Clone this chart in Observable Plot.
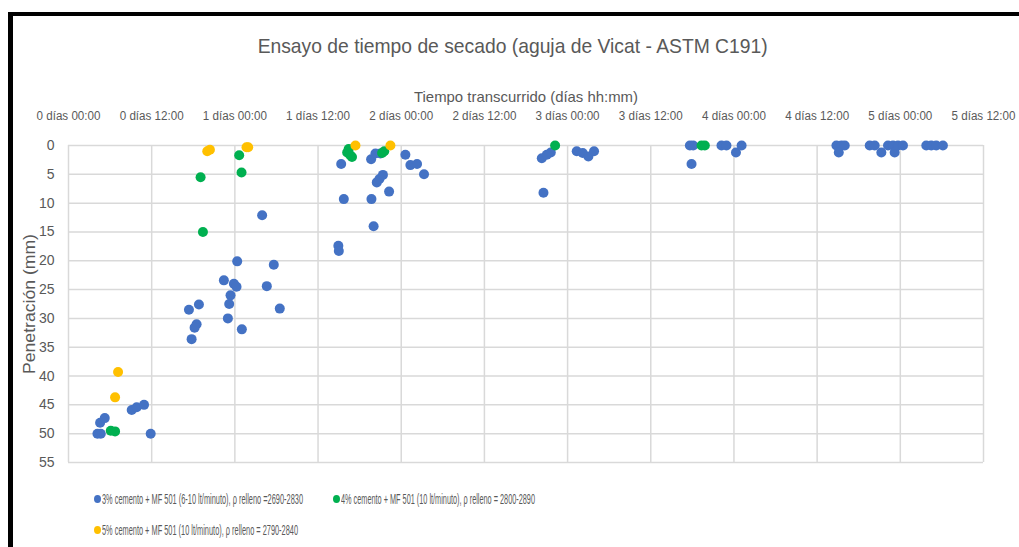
<!DOCTYPE html>
<html>
<head>
<meta charset="utf-8">
<script src="https://cdn.jsdelivr.net/npm/d3@7"></script>
<script src="https://cdn.jsdelivr.net/npm/@observablehq/plot@0.6"></script>
<style>
  html, body { margin: 0; padding: 0; background: #fff; }
  body { width: 1019px; height: 547px; position: relative; overflow: hidden;
         font-family: "Liberation Sans", Arial, sans-serif; color: #595959; }
  #frame { position: absolute; left: 8px; top: 12px; width: 1020px; height: 540px;
           border-left: 5px solid #000; border-top: 4px solid #000; box-sizing: border-box; }
  #title { position: absolute; left: 0; width: 1026px; top: 33px; text-align: center;
           font-size: 21px; line-height: 26px; color: #595959; }
  #title span { display: inline-block; transform-origin: center; }
  #chart { position: absolute; left: 0; top: 70px; }
  .leg { position: absolute; font-size: 15px; line-height: 16px; white-space: nowrap; color: #595959; }
  .leg span.m { position: absolute; left: 0; top: 4px; width: 7px; height: 8px; border-radius: 50%; }
  .leg span.t { position: absolute; left: 8px; top: 0; display: inline-block; transform-origin: left center; }
</style>
</head>
<body>
<div id="frame"></div>
<div id="title"><span>Ensayo de tiempo de secado (aguja de Vicat - ASTM C191)</span></div>
<div id="chart"></div>
<div id="legend"></div>
<script>
// ---- data ----
const xTicks = [0, 0.5, 1, 1.5, 2, 2.5, 3, 3.5, 4, 4.5, 5, 5.5];
const xTickLabels = ["0 días 00:00", "0 días 12:00", "1 días 00:00", "1 días 12:00", "2 días 00:00", "2 días 12:00",
  "3 días 00:00", "3 días 12:00", "4 días 00:00", "4 días 12:00", "5 días 00:00", "5 días 12:00"];
const yTicks = [0, 5, 10, 15, 20, 25, 30, 35, 40, 45, 50, 55];

const seriesNames = [
  "3% cemento + MF 501 (6-10 lt/minuto), ρ relleno =2690-2830",
  "4% cemento + MF 501 (10 lt/minuto), ρ relleno = 2800-2890",
  "5% cemento + MF 501 (10 lt/minuto), ρ relleno = 2790-2840"
];
const seriesColors = ["#4472C4", "#00B050", "#FFC000"];

// tiempo (días), penetración (mm)
const s3x = [0.174,0.194,0.190,0.218,0.380,0.410,0.454,0.494, 0.724,0.784,0.770,0.758,0.740,
  0.934,1.014,0.994,1.010,0.974,0.966,0.958,1.042,1.164,1.234,1.192,1.270,
  1.639,1.655,1.622,1.625,1.834,1.821,1.819,1.845,1.875,1.853,1.869,1.890,1.927,2.025,2.055,2.095,2.137,
  2.845,2.875,2.899,2.855,3.055,3.091,3.125,3.159,
  3.735,3.755,3.745,3.925,3.955,4.012,4.046,
  4.616,4.646,4.630,4.666,4.816,4.846,4.886,4.926,4.956,4.966,4.986,5.016,5.156,5.186,5.216,5.256];
const s3y = [50,50,48.1,47.3,45.9,45.4,45.0,50.0, 28.5,27.6,31.0,31.6,33.6,
  23.4,20.1,24.0,24.5,26.0,27.5,30.0,31.9,12.1,20.7,24.4,28.3,
  3.2,9.3,17.4,18.3,14.0,9.3,2.4,1.4,1.4,6.4,5.8,5.1,8.0,1.6,3.4,3.2,5.0,
  2.2,1.6,1.2,8.2,1.0,1.3,1.9,1.0,
  0,0,3.2,0,0,1.2,0,
  0,0,1.2,0,0,0,1.2,0,0,1.2,0,0,0,0,0,0];
const s4x = [0.254,0.280,0.794,0.808,1.026,1.040,1.675,1.684,1.694,1.704,1.885,1.898,2.925,3.805,3.825];
const s4y = [49.5,49.6,5.5,15.0,1.7,4.7,1.2,0.6,1.7,2.0,1.3,1.0,0,0,0];
const s5x = [0.298,0.280,0.834,0.850,1.070,1.080,1.725,1.935];
const s5y = [39.3,43.7,1.0,0.75,0.3,0.3,0,0];

const toRows = (xs, ys) => xs.map((x, i) => ({x, y: ys[i]}));
const series = [toRows(s3x, s3y), toRows(s4x, s4y), toRows(s5x, s5y)];

const chart = Plot.plot({
  width: 1019,
  height: 402,
  marginLeft: 68,
  marginRight: 36,
  marginTop: 75,
  marginBottom: 10,
  style: {fontFamily: '"Liberation Sans", Arial, sans-serif', fontSize: "14px", color: "#595959", background: "transparent"},
  x: {domain: [0, 5.5], axis: "top", ticks: xTicks, tickFormat: (d, i) => xTickLabels[i], tickSize: 0, tickPadding: 26, label: null},
  y: {domain: [0, 55], reverse: true, ticks: yTicks, tickSize: 0, tickPadding: 14, label: "Penetración (mm)", labelAnchor: "center", labelArrow: false, labelOffset: 46},
  marks: [
    Plot.gridX(xTicks, {stroke: "#d9d9d9", strokeOpacity: 1, strokeWidth: 1.5}),
    Plot.gridY(yTicks, {stroke: "#d9d9d9", strokeOpacity: 1, strokeWidth: 1.5}),
    ...series.map((rows, k) => Plot.dot(rows, {x: "x", y: "y", r: 5, fill: seriesColors[k], stroke: "none"})),
    Plot.text(["Tiempo transcurrido (días hh:mm)"], {frameAnchor: "top", dy: -54, fontSize: 15, fill: "#595959"})
  ]
});
document.getElementById("chart").appendChild(chart);

// condense svg texts to the narrow look of the reference
function fitSvgText(sel, target) {
  d3.select(chart).selectAll(sel).each(function () {
    this.setAttribute("textLength", target);
    this.setAttribute("lengthAdjust", "spacingAndGlyphs");
  });
}
d3.select(chart).selectAll('[aria-label="x-axis tick label"] text').attr("font-size", 12);
fitSvgText('[aria-label="x-axis tick label"] text', 64);
fitSvgText('[aria-label="text"] text', 224);
d3.select(chart).selectAll('[aria-label="y-axis label"] text').attr("font-size", 17);
fitSvgText('[aria-label="y-axis label"] text', 140);

// title fit
const titleSpan = document.querySelector("#title span");
const tw = titleSpan.getBoundingClientRect().width;
titleSpan.style.transform = `scaleX(${510 / tw})`;

// legend
const legend = document.getElementById("legend");
const legPos = [[94, 491], [333, 491], [94, 522]];
const legWidths = [201, 194, 196];
seriesNames.forEach((name, k) => {
  const d = document.createElement("div");
  d.className = "leg";
  d.style.left = legPos[k][0] + "px";
  d.style.top = legPos[k][1] + "px";
  const m = document.createElement("span");
  m.className = "m";
  m.style.background = seriesColors[k];
  d.appendChild(m);
  const t = document.createElement("span");
  t.className = "t";
  t.textContent = name;
  d.appendChild(t);
  legend.appendChild(d);
  const w = t.getBoundingClientRect().width;
  t.style.transform = `scaleX(${legWidths[k] / w})`;
});
</script>
</body>
</html>
